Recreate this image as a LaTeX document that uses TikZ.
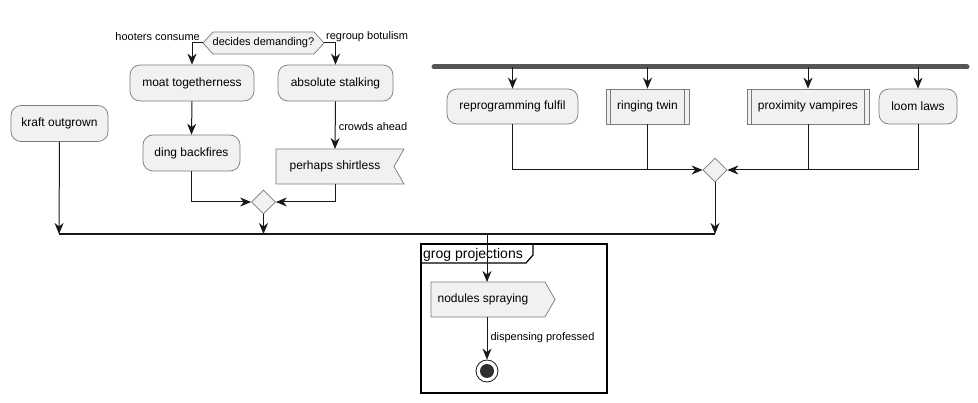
\documentclass[tikz,border=0pt]{standalone}
\usepackage{fontspec}
\setmainfont{Liberation Sans}
\usetikzlibrary{arrows.meta,shapes.geometric}
\definecolor{boxfill}{HTML}{F1F1F1}
\definecolor{boxline}{HTML}{7A7A7A}
\definecolor{lin}{HTML}{181818}
\definecolor{forkc}{HTML}{555555}
\tikzset{
  act/.style={draw=boxline, fill=boxfill, rounded corners=10pt, minimum height=36pt, inner sep=0pt, font=\fontsize{12}{14}\selectfont, line width=0.7pt},
  subbox/.style={draw=boxline, fill=boxfill, minimum height=35pt, inner sep=0pt, font=\fontsize{12}{14}\selectfont, line width=0.7pt},
  plain/.style={inner sep=0pt, font=\fontsize{12}{14}\selectfont},
  lbl/.style={inner sep=0pt, font=\fontsize{11}{13}\selectfont},
  merge/.style={diamond, draw=boxline, fill=boxfill, minimum width=24pt, minimum height=24pt, inner sep=0pt, line width=0.7pt},
  shp/.style={draw=boxline, fill=boxfill, line width=0.7pt},
  arr/.style={draw=lin, line width=1pt, -{Stealth[length=11pt,width=9pt,inset=3.5pt]}},
  ln/.style={draw=lin, line width=1pt},
}
\begin{document}
\begin{tikzpicture}[x=1pt,y=-1pt]
\useasboundingbox (0,0) rectangle (978,403);

% hexagon decision
\path[shp] (203,43) coordinate (hexL) -- (213,32) -- (314,32) -- (324,43) coordinate (hexR) -- (314,54) -- (213,54) -- cycle;
\node[lbl] (dd) at (263.5,43) {decides demanding?};
\node[lbl, anchor=east] (lh) at (200,37) {hooters consume};
\node[lbl, anchor=west] (lr) at (326,37) {regroup botulism};

% left column boxes
\node[act, minimum width=124pt] (moat) at (192,83) {moat togetherness};
\node[act, minimum width=115pt] (abs) at (335.5,83) {absolute stalking};
\node[act, minimum width=97pt] (kraft) at (59.5,123.5) {kraft outgrown};
\node[act, minimum width=97pt] (ding) at (191.5,153) {ding backfires};

% flag shape
\path[shp] (276,149) -- (404,149) -- (394,166.5) -- (404,184) -- (276,184) -- cycle;
\node[plain] (shirt) at (335,166.5) {perhaps shirtless};
\coordinate (shirtT) at (335,149);
\coordinate (shirtB) at (335,184);

\node[merge] (m1) at (263.5,202) {};

% connectors left part
\draw[arr] (hexL) -| (moat.north);
\draw[arr] (hexR) -| (abs.north);
\draw[arr] (moat.south) -- (ding.north);
\draw[arr] (abs.south) -- node[lbl, anchor=west, xshift=3pt, yshift=-1pt] (lca) {crowds ahead} (shirtT);
\draw[arr] (ding.south) |- (m1.west);
\draw[arr] (shirtB) |- (m1.east);

% fork bar
\coordinate (fbL) at (434,67);
\coordinate (fbR) at (967,67);
\draw[forkc, line width=5pt, line cap=round] (fbL) -- (fbR);

\node[act, minimum width=131pt, minimum height=35pt] (rep) at (512.5,106.5) {reprogramming fulfil};
\node[subbox, minimum width=83pt] (ring) at (647.5,106.5) {ringing twin};
\node[subbox, minimum width=122pt] (prox) at (808,106.5) {proximity vampires};
\node[act, minimum width=78pt, minimum height=35pt] (loom) at (918,106.5) {loom laws};
\foreach \n in {ring,prox}{
  \draw[boxline, line width=0.7pt] ([xshift=5pt]\n.north west) -- ([xshift=5pt]\n.south west);
  \draw[boxline, line width=0.7pt] ([xshift=-5pt]\n.north east) -- ([xshift=-5pt]\n.south east);
}
\draw[arr] (rep.north |- fbL) -- (rep.north);
\draw[arr] (ring.north |- fbL) -- (ring.north);
\draw[arr] (prox.north |- fbL) -- (prox.north);
\draw[arr] (loom.north |- fbL) -- (loom.north);

\node[merge] (m2) at (715,170) {};
\draw[arr] (rep.south) |- (m2.west);
\draw[ln] (ring.south) -- (ring.south |- m2);
\draw[arr] (loom.south) |- (m2.east);
\draw[ln] (prox.south) -- (prox.south |- m2);

% join bar
\coordinate (jbL) at (59,234);
\coordinate (jbR) at (715,234);
\draw[lin, line width=1.6pt] (jbL) -- (jbR);
\draw[arr] (kraft.south) -- (jbL);
\draw[arr] (m1.south) -- (m1.south |- jbL);
\draw[arr] (m2.south) -- (jbR);

% group
\draw[black, line width=1.4pt] (421,244) rectangle (607,393);
\draw[black, line width=1.2pt] (421,263) -- (526,263) -- (533,255) -- (533,244);
\node[inner sep=0pt, anchor=west, font=\fontsize{14}{16}\selectfont] (gt) at (423,255) {grog projections};

% nodules
\path[shp] (431,282) -- (545,282) -- (555,299.5) -- (545,317) -- (431,317) -- cycle;
\node[plain] (nod) at (483,299.5) {nodules spraying};
\coordinate (nodT) at (487,282);
\coordinate (nodB) at (487,317);

\draw[arr] (487,234) -- (nodT);

\node[circle, draw=lin, fill=white, line width=0.8pt, minimum size=22pt, inner sep=0pt] (endn) at (487,371) {};
\node[circle, fill=lin!90, minimum size=14pt, inner sep=0pt] (endi) at (endn) {};
\draw[arr] (nodB) -- node[lbl, anchor=west, xshift=3pt, yshift=1pt] (ldp) {dispensing professed} (endn.north);
\end{tikzpicture}
\end{document}
